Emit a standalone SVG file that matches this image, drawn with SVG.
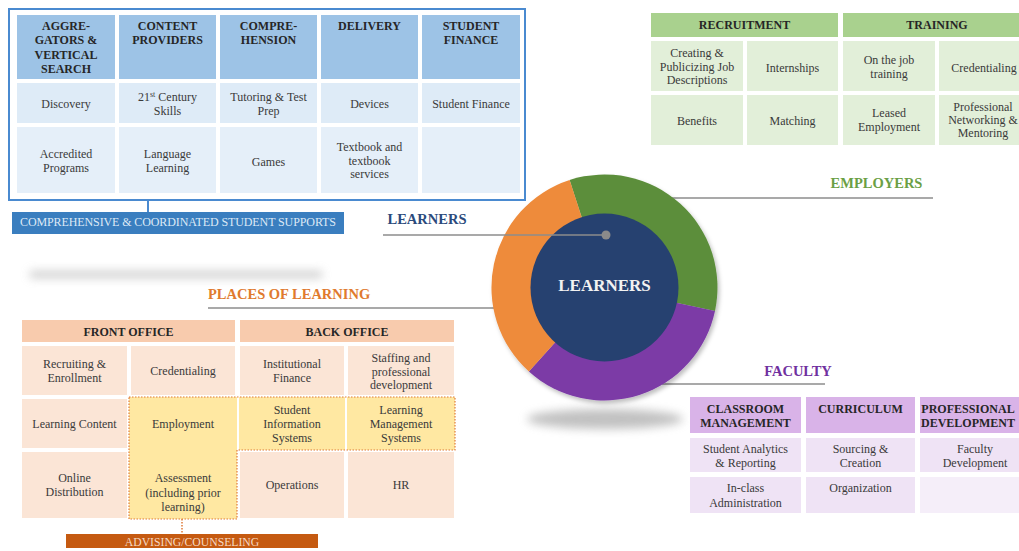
<svg xmlns="http://www.w3.org/2000/svg" width="1019" height="551" viewBox="0 0 1019 551">
  <style>
    text { font-family: "Liberation Serif", "Times New Roman", serif; text-anchor: middle; }
    .hd { font-size: 12px; font-weight: bold; fill: #262626; }
    .tx { font-size: 12px; fill: #3a3a3a; }
    .lbl { font-size: 14.5px; font-weight: bold; }
    .bh { fill: #9dc3e6; }
    .bc { fill: #deebf7; }
    .bc2 { fill: #e5eff9; }
    .gh { fill: #a9d18e; }
    .gc { fill: #e2efd9; }
    .ph { fill: #f8cbad; }
    .pc { fill: #fbe5d6; }
    .yc { fill: #ffe8a2; }
    .vh { fill: #d9b3e8; }
    .vc { fill: #efe3f5; }
    .vc2 { fill: #f5eef9; }
    .lead { stroke: #8c8c8c; stroke-width: 1.3; fill: none; }
  </style>
  <defs>
    <filter id="soft" x="-20%" y="-200%" width="140%" height="500%">
      <feGaussianBlur stdDeviation="5"/>
    </filter>
    <filter id="ringShadow" x="-10%" y="-10%" width="125%" height="125%">
      <feDropShadow dx="2" dy="3" stdDeviation="2" flood-color="#000" flood-opacity="0.25"/>
    </filter>
  </defs>

  <rect width="1019" height="551" fill="#ffffff"/>

  <!-- soft grey bands -->
  <rect x="30" y="271" width="292" height="7" fill="#b8b8b8" opacity="0.7" filter="url(#soft)"/>
  <ellipse cx="605" cy="419" rx="78" ry="10" fill="#8f8f8f" opacity="0.55" filter="url(#soft)"/>

  <!-- connectors -->
  <g id="connectors">
    <line class="lead" x1="208" y1="308" x2="494" y2="308"/>
    <line class="lead" x1="672" y1="198" x2="933" y2="198"/>
    <line class="lead" x1="662" y1="384" x2="825" y2="384"/>
    <line x1="148" y1="200" x2="148" y2="212" stroke="#4a8ad0" stroke-width="2"/>
    <line x1="182" y1="519" x2="182" y2="534" stroke="#e07b39" stroke-width="1.5" stroke-dasharray="1.5 1.5"/>
  </g>

  <!-- learner ring -->
  <g id="learners-ring">
    <g filter="url(#ringShadow)">
      <path d="M604.5,287.5 L569.6,180 A113,113 0 0 1 715,311 Z" fill="#5b8e3a"/>
      <path d="M604.5,287.5 L715,311 A113,113 0 0 1 528.9,371.5 Z" fill="#7b3aa6"/>
      <path d="M604.5,287.5 L528.9,371.5 A113,113 0 0 1 569.6,180 Z" fill="#ee8b3b"/>
    </g>
    <circle cx="604.5" cy="287.5" r="74" fill="#264170"/>
    <text x="604.5" y="291" font-size="17" font-weight="bold" fill="#f2f2f2">LEARNERS</text>
  </g>

  <!-- learners pointer -->
  <g id="learners-label">
    <line class="lead" x1="383" y1="235" x2="606" y2="235"/>
    <circle cx="606" cy="235" r="4.5" fill="#8a8a8a"/>
    <text class="lbl" x="427" y="224" fill="#2b4a7c">LEARNERS</text>
  </g>

  <!-- student supports (blue) -->
  <g id="student-supports">
    <rect x="9" y="9" width="516" height="191" fill="#ffffff" stroke="#4a8ad0" stroke-width="2"/>
    <rect class="bh" x="17" y="15" width="98" height="64"/>
    <rect class="bh" x="119" y="15" width="97" height="64"/>
    <rect class="bh" x="220" y="15" width="97" height="64"/>
    <rect class="bh" x="321" y="15" width="97" height="64"/>
    <rect class="bh" x="422" y="15" width="98" height="64"/>
    <rect class="bc" x="17" y="83" width="98" height="40"/>
    <rect class="bc" x="119" y="83" width="97" height="40"/>
    <rect class="bc" x="220" y="83" width="97" height="40"/>
    <rect class="bc" x="321" y="83" width="97" height="40"/>
    <rect class="bc" x="422" y="83" width="98" height="40"/>
    <rect class="bc2" x="17" y="127" width="98" height="66"/>
    <rect class="bc2" x="119" y="127" width="97" height="66"/>
    <rect class="bc2" x="220" y="127" width="97" height="66"/>
    <rect class="bc2" x="321" y="127" width="97" height="66"/>
    <rect class="bc2" x="422" y="127" width="98" height="66"/>

    <text class="hd" x="66" y="30">AGGRE-<tspan x="66" dy="14.3">GATORS &amp;</tspan><tspan x="66" dy="14.3">VERTICAL</tspan><tspan x="66" dy="14.3">SEARCH</tspan></text>
    <text class="hd" x="167.5" y="30">CONTENT<tspan x="167.5" dy="14.3">PROVIDERS</tspan></text>
    <text class="hd" x="268.5" y="30">COMPRE-<tspan x="268.5" dy="14.3">HENSION</tspan></text>
    <text class="hd" x="369.5" y="30">DELIVERY</text>
    <text class="hd" x="471" y="30">STUDENT<tspan x="471" dy="14.3">FINANCE</tspan></text>

    <text class="tx" x="66" y="108">Discovery</text>
    <text class="tx" x="167.5" y="101">21<tspan font-size="8" dy="-4">st</tspan><tspan dy="4"> Century</tspan><tspan x="167.5" dy="14">Skills</tspan></text>
    <text class="tx" x="268.5" y="101">Tutoring &amp; Test<tspan x="268.5" dy="14">Prep</tspan></text>
    <text class="tx" x="369.5" y="108">Devices</text>
    <text class="tx" x="471" y="108">Student Finance</text>

    <text class="tx" x="66" y="158">Accredited<tspan x="66" dy="14">Programs</tspan></text>
    <text class="tx" x="167.5" y="158">Language<tspan x="167.5" dy="14">Learning</tspan></text>
    <text class="tx" x="268.5" y="166">Games</text>
    <text class="tx" x="369.5" y="151">Textbook and<tspan x="369.5" dy="13.5">textbook</tspan><tspan x="369.5" dy="13.5">services</tspan></text>

    <rect x="12" y="212" width="332" height="22" fill="#3a7ebf"/>
    <text x="178" y="226" font-size="12" fill="#dde9f6" textLength="316">COMPREHENSIVE &amp; COORDINATED STUDENT SUPPORTS</text>
  </g>

  <!-- employers (green) -->
  <g id="employers">
    <rect class="gh" x="651" y="13" width="187" height="24"/>
    <rect class="gh" x="843" y="13" width="188" height="24"/>
    <rect class="gc" x="651" y="41" width="92" height="50"/>
    <rect class="gc" x="747" y="41" width="91" height="50"/>
    <rect class="gc" x="843" y="41" width="92" height="50"/>
    <rect class="gc" x="939" y="41" width="92" height="50"/>
    <rect class="gc" x="651" y="95" width="92" height="50"/>
    <rect class="gc" x="747" y="95" width="91" height="50"/>
    <rect class="gc" x="843" y="95" width="92" height="50"/>
    <rect class="gc" x="939" y="95" width="92" height="50"/>

    <text class="hd" x="744.5" y="29">RECRUITMENT</text>
    <text class="hd" x="937" y="29">TRAINING</text>

    <text class="tx" x="697" y="57">Creating &amp;<tspan x="697" dy="13.5">Publicizing Job</tspan><tspan x="697" dy="13.5">Descriptions</tspan></text>
    <text class="tx" x="792.5" y="72">Internships</text>
    <text class="tx" x="889" y="64">On the job<tspan x="889" dy="13.5">training</tspan></text>
    <text class="tx" x="984" y="72">Credentialing</text>
    <text class="tx" x="697" y="125">Benefits</text>
    <text class="tx" x="792.5" y="125">Matching</text>
    <text class="tx" x="889" y="117">Leased<tspan x="889" dy="14">Employment</tspan></text>
    <text class="tx" x="983" y="111">Professional<tspan x="983" dy="13">Networking &amp;</tspan><tspan x="983" dy="13">Mentoring</tspan></text>

    <text class="lbl" x="876.5" y="188" fill="#6b9f45">EMPLOYERS</text>
  </g>

  <!-- places of learning (orange) -->
  <g id="places-of-learning">
    <text class="lbl" x="208" y="299" font-size="14" fill="#e07a2e" style="text-anchor:start">PLACES OF LEARNING</text>

    <rect class="ph" x="22" y="320" width="213" height="22"/>
    <rect class="ph" x="240" y="320" width="214" height="22"/>
    <rect class="pc" x="22" y="346" width="105" height="49"/>
    <rect class="pc" x="131" y="346" width="104" height="49"/>
    <rect class="pc" x="240" y="346" width="104" height="49"/>
    <rect class="pc" x="348" y="346" width="106" height="49"/>
    <rect class="pc" x="22" y="399" width="105" height="49"/>
    <rect class="pc" x="22" y="452" width="105" height="66"/>
    <rect class="pc" x="240" y="452" width="104" height="66"/>
    <rect class="pc" x="348" y="452" width="106" height="66"/>
    <rect class="yc" x="129" y="397" width="108" height="122"/>
    <rect class="yc" x="239" y="397" width="106" height="53"/>
    <rect class="yc" x="347" y="397" width="108" height="53"/>
    <polygon points="129,397 455,397 455,450 237,450 237,519 129,519" fill="none" stroke="#e07b39" stroke-width="1.2" stroke-dasharray="1.5 1.5"/>

    <text class="hd" x="128.5" y="336">FRONT OFFICE</text>
    <text class="hd" x="347" y="336">BACK OFFICE</text>

    <text class="tx" x="74.5" y="368">Recruiting &amp;<tspan x="74.5" dy="14">Enrollment</tspan></text>
    <text class="tx" x="183" y="375">Credentialing</text>
    <text class="tx" x="292" y="368">Institutional<tspan x="292" dy="14">Finance</tspan></text>
    <text class="tx" x="401" y="362">Staffing and<tspan x="401" dy="13.5">professional</tspan><tspan x="401" dy="13.5">development</tspan></text>

    <text class="tx" x="74.5" y="428">Learning Content</text>
    <text class="tx" x="183" y="428">Employment</text>
    <text class="tx" x="292" y="414">Student<tspan x="292" dy="14">Information</tspan><tspan x="292" dy="14">Systems</tspan></text>
    <text class="tx" x="401" y="414">Learning<tspan x="401" dy="14">Management</tspan><tspan x="401" dy="14">Systems</tspan></text>

    <text class="tx" x="74.5" y="482">Online<tspan x="74.5" dy="14">Distribution</tspan></text>
    <text class="tx" x="183" y="482">Assessment<tspan x="183" dy="14.5">(including prior</tspan><tspan x="183" dy="14.5">learning)</tspan></text>
    <text class="tx" x="292" y="489">Operations</text>
    <text class="tx" x="401" y="489">HR</text>

    <rect x="66" y="534" width="252" height="14" fill="#c55a11"/>
    <text x="192" y="546" font-size="11.7" fill="#f6d9c3">ADVISING/COUNSELING</text>
  </g>

  <!-- faculty (purple) -->
  <g id="faculty">
    <text class="lbl" x="798" y="376" fill="#7030a0">FACULTY</text>

    <rect class="vh" x="690" y="397" width="111" height="36"/>
    <rect class="vh" x="806" y="397" width="109" height="36"/>
    <rect class="vh" x="920" y="397" width="110" height="36"/>
    <rect class="vc" x="690" y="438" width="111" height="34"/>
    <rect class="vc" x="806" y="438" width="109" height="34"/>
    <rect class="vc" x="920" y="438" width="110" height="34"/>
    <rect class="vc" x="690" y="477" width="111" height="36"/>
    <rect class="vc" x="806" y="477" width="109" height="36"/>
    <rect class="vc2" x="920" y="477" width="110" height="36"/>

    <text class="hd" x="745.5" y="413">CLASSROOM<tspan x="745.5" dy="14">MANAGEMENT</tspan></text>
    <text class="hd" x="860.5" y="413">CURRICULUM</text>
    <text class="hd" x="968" y="413" font-size="11.5">PROFESSIONAL<tspan x="968" dy="14">DEVELOPMENT</tspan></text>

    <text class="tx" x="745.5" y="453">Student Analytics<tspan x="745.5" dy="14">&amp; Reporting</tspan></text>
    <text class="tx" x="860.5" y="453">Sourcing &amp;<tspan x="860.5" dy="14">Creation</tspan></text>
    <text class="tx" x="975" y="453">Faculty<tspan x="975" dy="14">Development</tspan></text>
    <text class="tx" x="745.5" y="492">In-class<tspan x="745.5" dy="14.5">Administration</tspan></text>
    <text class="tx" x="860.5" y="492">Organization</text>
  </g>
</svg>
